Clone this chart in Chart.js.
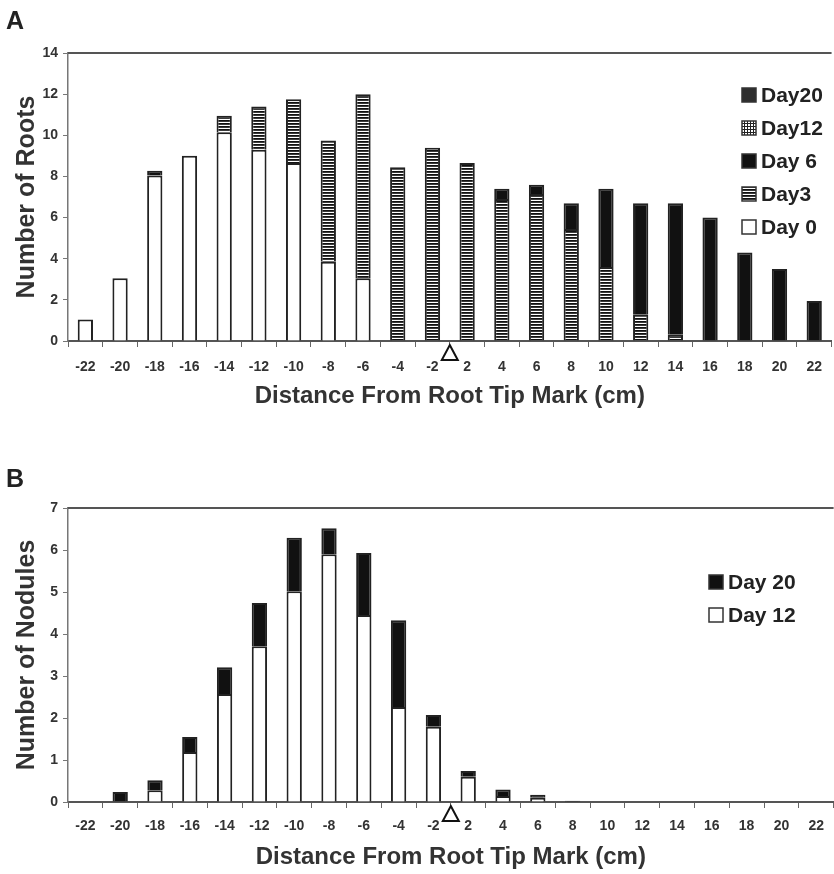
<!DOCTYPE html>
<html>
<head>
<meta charset="utf-8">
<script src="https://cdn.jsdelivr.net/npm/chart.js@4.4.0/dist/chart.umd.min.js"></script>
<style>
  html, body { margin: 0; padding: 0; background: #fff; }
  .panel { position: absolute; left: 0; }
  #panelA { top: 0; }
  #panelB { top: 440px; }
</style>
</head>
<body>
<div class="panel" id="panelA"><canvas id="rootsChart" width="834" height="440"></canvas></div>
<div class="panel" id="panelB"><canvas id="nodulesChart" width="834" height="434"></canvas></div>
<script>
// categories (cm from the root tip mark, no 0 column)
var distances = ['-22', '-20', '-18', '-16', '-14', '-12', '-10', '-8', '-6', '-4', '-2',
                 '2', '4', '6', '8', '10', '12', '14', '16', '18', '20', '22'];

// panel A - number of roots
var rootsDay0  = [1.05, 3.05, 8.05, 9.0, 10.15, 9.3, 8.65, 3.85, 3.05, 0, 0, 0, 0, 0, 0, 0, 0, 0, 0, 0, 0, 0];
var rootsDay3  = [0, 0, 0, 0, 0.8, 2.1, 3.1, 5.9, 8.95, 8.45, 9.4, 8.65, 6.9, 7.15, 5.45, 3.6, 1.3, 0.3, 0, 0, 0, 0];
var rootsDay6  = [0, 0, 0.22, 0, 0, 0, 0, 0, 0, 0, 0, 0, 0.5, 0.45, 1.25, 3.8, 5.4, 6.4, 6.0, 4.3, 3.5, 1.95];
var rootsDay12 = [0, 0, 0, 0, 0, 0, 0, 0, 0, 0, 0, 0, 0, 0, 0, 0, 0, 0, 0, 0, 0, 0];
var rootsDay20 = [0, 0, 0, 0, 0, 0, 0, 0, 0, 0, 0, 0, 0, 0, 0, 0, 0, 0, 0, 0, 0, 0];
var rootsTicks = [0, 2, 4, 6, 8, 10, 12, 14];

// panel B - number of nodules
var nodDay12 = [0, 0, 0.28, 1.19, 2.57, 3.71, 5.02, 5.9, 4.45, 2.26, 1.79, 0.6, 0.14, 0.1, 0, 0, 0, 0, 0, 0, 0, 0];
var nodDay20 = [0, 0.24, 0.24, 0.36, 0.64, 1.03, 1.27, 0.62, 1.48, 2.07, 0.28, 0.14, 0.16, 0.07, 0.03, 0, 0, 0, 0, 0, 0, 0];
var nodTicks = [0, 1, 2, 3, 4, 5, 6, 7];

var fontFamily = '"Liberation Sans", Arial, sans-serif';
var narrowFamily = '"Liberation Sans Narrow", "Liberation Sans", Arial, sans-serif';
var ink = '#333';

// fill patterns for the scanned look
function stripePattern() {
    var c = document.createElement('canvas');
    c.width = 4; c.height = 3;
    var g = c.getContext('2d');
    g.fillStyle = '#fff'; g.fillRect(0, 0, 4, 3);
    g.fillStyle = '#111'; g.fillRect(0, 0, 4, 1);
    g.fillStyle = '#3a3a3a'; g.fillRect(0, 1, 4, 1);
    return g.createPattern(c, 'repeat');
}
function gridPattern() {
    var c = document.createElement('canvas');
    c.width = 3; c.height = 3;
    var g = c.getContext('2d');
    g.fillStyle = '#fff'; g.fillRect(0, 0, 3, 3);
    g.fillStyle = '#222'; g.fillRect(0, 0, 3, 1); g.fillRect(0, 0, 1, 3);
    return g.createPattern(c, 'repeat');
}

function noZero(arr) {
    return arr.map(function (v) { return v === 0 ? null : v; });
}

function barSet(label, data, fill) {
    return {
        label: label,
        data: noZero(data),
        backgroundColor: fill,
        borderColor: '#222',
        borderWidth: 2,
        barPercentage: 0.44,
        categoryPercentage: 1.0
    };
}

// letter, legend, top frame line and the tip-mark triangle
var decorations = {
    id: 'decorations',
    afterDraw: function (chart, args, opts) {
        var ctx = chart.ctx;
        var area = chart.chartArea;
        var xs = chart.scales.x;
        ctx.save();

        // top frame line
        ctx.strokeStyle = '#555';
        ctx.lineWidth = 2;
        ctx.beginPath();
        ctx.moveTo(area.left, area.top);
        ctx.lineTo(area.right, area.top);
        ctx.stroke();

        // panel letter
        ctx.fillStyle = '#222';
        ctx.font = 'bold 25px ' + fontFamily;
        ctx.textBaseline = 'middle';
        ctx.textAlign = 'left';
        ctx.fillText(opts.letter, opts.letterX, opts.letterY);

        // legend, reversed like Excel
        ctx.font = 'bold 21px ' + fontFamily;
        var sets = chart.data.datasets.slice().reverse();
        sets.forEach(function (ds, i) {
            var y = opts.legendY + i * opts.legendStep;
            ctx.fillStyle = ds.backgroundColor;
            ctx.fillRect(opts.legendX, y - 7, 14, 14);
            ctx.strokeStyle = ink;
            ctx.lineWidth = 1.5;
            ctx.strokeRect(opts.legendX, y - 7, 14, 14);
            ctx.fillStyle = '#222';
            ctx.fillText(ds.label, opts.legendX + 19, y + 1);
        });

        // root tip mark between -2 and 2
        var tx = (xs.getPixelForValue(10) + xs.getPixelForValue(11)) / 2;
        var ty = area.bottom + 4;
        ctx.fillStyle = '#fff';
        ctx.strokeStyle = '#111';
        ctx.lineWidth = 2;
        ctx.beginPath();
        ctx.moveTo(tx, ty);
        ctx.lineTo(tx + 8, ty + 15);
        ctx.lineTo(tx - 8, ty + 15);
        ctx.closePath();
        ctx.fill();
        ctx.stroke();
        ctx.restore();
    }
};

function makeOptions(yMax, yTitle, ticks, xHeight, xTitlePad, tickPad, padTop, deco) {
    return {
        responsive: false,
        animation: false,
        layout: { padding: { top: padTop, left: 0, right: 0, bottom: 0 } },
        plugins: {
            legend: { display: false },
            tooltip: { enabled: false },
            decorations: deco
        },
        scales: {
            x: {
                stacked: true,
                offset: true,
                grid: { drawOnChartArea: false, offset: true, tickLength: 6, color: '#666', lineWidth: 1 },
                border: { color: '#555', width: 2 },
                ticks: {
                    color: ink, padding: tickPad, maxRotation: 0, autoSkip: false,
                    font: { family: narrowFamily, size: 14, weight: 'bold' }
                },
                title: {
                    display: true,
                    text: 'Distance From Root Tip Mark (cm)',
                    color: ink,
                    font: { family: fontFamily, size: 24, weight: 'bold' },
                    padding: { top: 0, bottom: xTitlePad }
                },
                afterFit: function (s) { s.height = xHeight; }
            },
            y: {
                stacked: true,
                min: 0,
                max: yMax,
                afterBuildTicks: function (s) { s.ticks = ticks.map(function (v) { return { value: v }; }); },
                grid: { drawOnChartArea: false, tickLength: 5, color: '#777' },
                border: { color: '#777', width: 1.5 },
                ticks: {
                    color: ink, padding: 5,
                    font: { family: narrowFamily, size: 14, weight: 'bold' }
                },
                title: {
                    display: true,
                    text: yTitle,
                    color: ink,
                    font: { family: fontFamily, size: 25, weight: 'bold' },
                    padding: { top: 12, bottom: 0 }
                },
                afterFit: function (s) { s.width = 68; }
            }
        }
    };
}

var ctxA = document.getElementById('rootsChart').getContext('2d');
var chartA = new Chart(ctxA, {
    type: 'bar',
    data: {
        labels: distances,
        datasets: [
            barSet('Day 0', rootsDay0, '#ffffff'),
            barSet('Day3', rootsDay3, stripePattern()),
            barSet('Day 6', rootsDay6, '#111111'),
            barSet('Day12', rootsDay12, gridPattern()),
            barSet('Day20', rootsDay20, '#2e2e2e')
        ]
    },
    options: makeOptions(14, 'Number of Roots', rootsTicks, 99, 29, 12, 53,
        { letter: 'A', letterX: 6, letterY: 22, legendX: 742, legendY: 95, legendStep: 33 }),
    plugins: [decorations]
});

var ctxB = document.getElementById('nodulesChart').getContext('2d');
var chartB = new Chart(ctxB, {
    type: 'bar',
    data: {
        labels: distances,
        datasets: [
            barSet('Day 12', nodDay12, '#ffffff'),
            barSet('Day 20', nodDay20, '#111111')
        ]
    },
    options: makeOptions(7, 'Number of Nodules', nodTicks, 72, 2, 10, 68,
        { letter: 'B', letterX: 6, letterY: 40, legendX: 709, legendY: 142, legendStep: 33 }),
    plugins: [decorations]
});
</script>
</body>
</html>
